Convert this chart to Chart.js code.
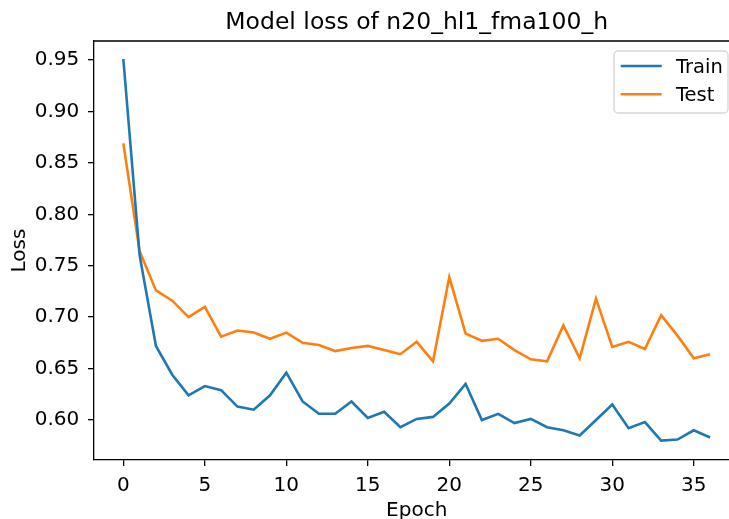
<!DOCTYPE html>
<html>
<head>
<meta charset="utf-8">
<script src="https://cdn.jsdelivr.net/npm/chart.js@4.4.0/dist/chart.umd.min.js"></script>
<style>
  html, body { margin: 0; padding: 0; background: #fff; overflow: hidden; }
  #lossChart { display: block; }
</style>
</head>
<body>
<canvas id="lossChart" width="745" height="519"></canvas>
<script>
var chartTitle = 'Model loss of n20_hl1_fma100_h';
var epochs = [0, 1, 2, 3, 4, 5, 6, 7, 8, 9, 10, 11, 12, 13, 14, 15, 16, 17, 18,
              19, 20, 21, 22, 23, 24, 25, 26, 27, 28, 29, 30, 31, 32, 33, 34, 35, 36];
var trainLoss = [0.951, 0.760, 0.672, 0.644, 0.624, 0.633, 0.629, 0.613, 0.610, 0.624,
                 0.646, 0.618, 0.606, 0.606, 0.618, 0.602, 0.608, 0.593, 0.601, 0.603,
                 0.616, 0.635, 0.600, 0.606, 0.597, 0.601, 0.593, 0.590, 0.585, 0.600,
                 0.615, 0.592, 0.598, 0.580, 0.581, 0.590, 0.583];
var testLoss = [0.869, 0.764, 0.726, 0.716, 0.700, 0.710, 0.681, 0.687, 0.685, 0.679,
                0.685, 0.675, 0.673, 0.667, 0.670, 0.672, 0.668, 0.664, 0.676, 0.657,
                0.739, 0.684, 0.677, 0.679, 0.668, 0.659, 0.657, 0.692, 0.660, 0.718,
                0.671, 0.676, 0.669, 0.702, 0.682, 0.660, 0.664];
var xTicks = [0, 5, 10, 15, 20, 25, 30, 35];
var yTicks = [0.60, 0.65, 0.70, 0.75, 0.80, 0.85, 0.90, 0.95];

var FONT = '"DejaVu Sans", sans-serif';

function toPoints(ys) {
    var pts = [];
    epochs.forEach(function(e, i) { pts.push({x: e, y: ys[i]}); });
    return pts;
}

// top/right spines, title and legend box
var extras = {
    id: 'extras',
    afterDraw: function(chart) {
        var ctx = chart.ctx;
        var a = chart.chartArea;
        ctx.save();
        ctx.strokeStyle = '#000';
        ctx.lineWidth = 1.3;
        ctx.beginPath();
        ctx.moveTo(a.left, a.top);
        ctx.lineTo(a.right, a.top);
        ctx.lineTo(a.right, a.bottom);
        ctx.stroke();

        ctx.fillStyle = '#000';
        ctx.font = '23.5px ' + FONT;
        ctx.textAlign = 'center';
        ctx.textBaseline = 'alphabetic';
        ctx.fillText(chartTitle, (a.left + a.right) / 2, 29);

        // legend
        var lx = 614, ly = 51, lw = 114, lh = 62, r = 4;
        ctx.fillStyle = 'rgba(255,255,255,0.8)';
        ctx.strokeStyle = '#d6d6d6';
        ctx.lineWidth = 1.3;
        ctx.beginPath();
        ctx.roundRect(lx, ly, lw, lh, r);
        ctx.fill();
        ctx.stroke();
        ctx.font = '19.5px ' + FONT;
        ctx.textAlign = 'left';
        chart.data.datasets.forEach(function(ds, i) {
            var yy = 66 + i * 28.3;
            ctx.strokeStyle = ds.borderColor;
            ctx.lineWidth = 2.6;
            ctx.beginPath();
            ctx.moveTo(620.7, yy);
            ctx.lineTo(661.7, yy);
            ctx.stroke();
            ctx.fillStyle = '#000';
            ctx.fillText(ds.label, 676, yy + 7);
        });
        ctx.restore();
    }
};

var ctx = document.getElementById('lossChart').getContext('2d');
var lossChart = new Chart(ctx, {
    type: 'line',
    data: {
        datasets: [{
            label: 'Train',
            data: toPoints(trainLoss),
            borderColor: '#1f77b4',
            borderWidth: 2.6,
            pointRadius: 0,
            tension: 0,
            fill: false
        }, {
            label: 'Test',
            data: toPoints(testLoss),
            borderColor: '#ff7f0e',
            borderWidth: 2.6,
            pointRadius: 0,
            tension: 0,
            fill: false
        }]
    },
    plugins: [extras],
    options: {
        responsive: false,
        devicePixelRatio: 1,
        animation: false,
        layout: { padding: { top: 41, right: 5.6, left: 0, bottom: 0 } },
        plugins: {
            legend: { display: false },
            title: { display: false },
            tooltip: { enabled: false }
        },
        scales: {
            x: {
                type: 'linear',
                min: -1.8,
                max: 37.8,
                afterBuildTicks: function(scale) {
                    scale.ticks = xTicks.map(function(v) { return {value: v}; });
                },
                afterFit: function(scale) { scale.height = 59; },
                grid: {
                    drawOnChartArea: false,
                    drawTicks: true,
                    tickLength: 6,
                    color: '#000',
                    lineWidth: 1.3
                },
                border: { display: true, color: '#000', width: 1.3 },
                ticks: {
                    color: '#000',
                    padding: 7.4,
                    maxRotation: 0,
                    autoSkip: false,
                    font: { family: FONT, size: 20 }
                },
                title: {
                    display: true,
                    text: 'Epoch',
                    color: '#000',
                    font: { family: FONT, size: 20 },
                    padding: { top: 0, bottom: -3.5 }
                }
            },
            y: {
                type: 'linear',
                min: 0.5611,
                max: 0.9685,
                afterBuildTicks: function(scale) {
                    scale.ticks = yTicks.map(function(v) { return {value: v}; });
                },
                afterFit: function(scale) { scale.width = 94; },
                grid: {
                    drawOnChartArea: false,
                    drawTicks: true,
                    tickLength: 6,
                    color: '#000',
                    lineWidth: 1.3
                },
                border: { display: true, color: '#000', width: 1.3 },
                ticks: {
                    color: '#000',
                    padding: 8.7,
                    font: { family: FONT, size: 20 },
                    callback: function(v) { return v.toFixed(2); }
                },
                title: {
                    display: true,
                    text: 'Loss',
                    color: '#000',
                    font: { family: FONT, size: 20 },
                    padding: { top: 7.6, bottom: 0 }
                }
            }
        }
    }
});
</script>
</body>
</html>
